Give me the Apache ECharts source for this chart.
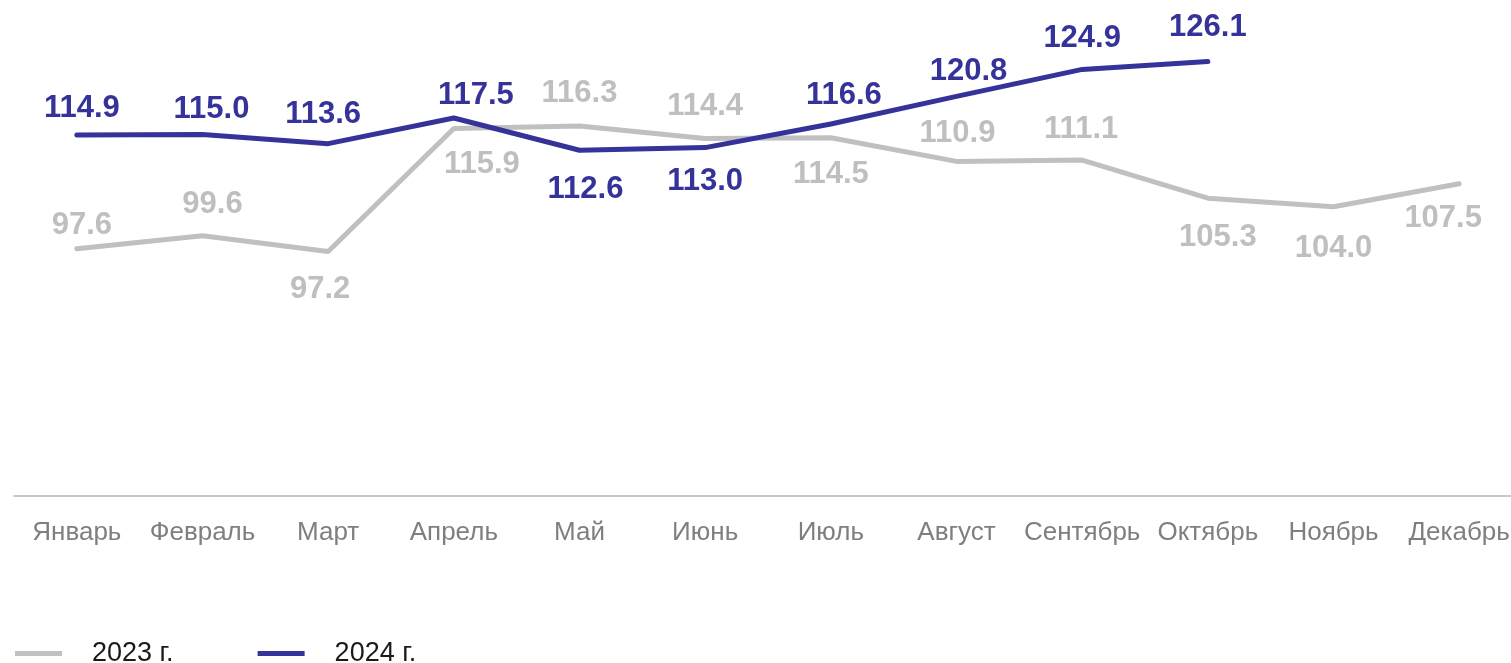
<!DOCTYPE html>
<html><head><meta charset="utf-8">
<script src="https://cdn.jsdelivr.net/npm/echarts@6/dist/echarts.min.js"></script>
<style>html,body{margin:0;padding:0;background:#fff}#c{width:1511px;height:663px}</style>
</head><body><div id="c"></div>
<script>
const categories = ['Январь','Февраль','Март','Апрель','Май','Июнь','Июль','Август','Сентябрь','Октябрь','Ноябрь','Декабрь'];
const values2023 = [97.6, 99.6, 97.2, 115.9, 116.3, 114.4, 114.5, 110.9, 111.1, 105.3, 104.0, 107.5];
const values2024 = [114.9, 115.0, 113.6, 117.5, 112.6, 113.0, 116.6, 120.8, 124.9, 126.1];
// label placement relative to each point (style only), [dx, dy] in px
const labelOffset2023 = [[5,-23],[10,-31],[-8,38],[28,36],[0,-32],[0,-32],[0,37],[1,-28],[-1,-31],[10,39],[0,42],[-16,35]];
const labelOffset2024 = [[5,-27],[9,-25],[-5,-29],[22,-23],[6,39],[0,34],[13,-28],[12,-25],[0,-31],[0,-34]];
const seriesNames = ['2023 г.', '2024 г.'];

const chart = echarts.init(document.getElementById('c'));
function mk(vals, offs) {
  return vals.map((v, i) => ({
    value: v,
    label: { position: 'inside', offset: offs[i] }
  }));
}
const FF = 'Liberation Sans, Arial, sans-serif';
const labelFont = { fontFamily: FF, fontWeight: 'bold', fontSize: 31, formatter: p => Number(p.value).toFixed(1) };
chart.setOption({
  animation: false,
  grid: { left: 14, width: 1508, top: 3, bottom: 167, containLabel: false, outerBoundsMode: 'none' },
  legend: {
    left: 15, top: 640, padding: 0, icon: 'rect', itemWidth: 47, itemHeight: 5, itemGap: 84,
    textStyle: { fontFamily: FF, fontSize: 27, color: '#1a1a1a', padding: [0,0,0,25] },
    data: seriesNames
  },
  xAxis: {
    type: 'category', data: categories, boundaryGap: true,
    axisLine: { lineStyle: { color: '#c8c8c8', width: 2 } },
    axisTick: { show: false },
    axisLabel: { color: '#7f7f7f', fontSize: 26, fontFamily: FF, margin: 24, interval: 0 }
  },
  yAxis: { type: 'value', min: 60, max: 135, show: false, splitLine: { show: false } },
  series: [
    { name: seriesNames[0], type: 'line', data: mk(values2023, labelOffset2023), symbol: 'circle', symbolSize: 0, showSymbol: true,
      lineStyle: { color: '#c0c0c0', width: 5, cap: 'round' }, itemStyle: { color: '#c0c0c0' },
      label: Object.assign({ show: true, color: '#bfbfbf' }, labelFont), z: 2 },
    { name: seriesNames[1], type: 'line', data: mk(values2024, labelOffset2024), symbol: 'circle', symbolSize: 0, showSymbol: true,
      lineStyle: { color: '#35339a', width: 5, cap: 'round' }, itemStyle: { color: '#35339a' },
      label: Object.assign({ show: true, color: '#35339a' }, labelFont), z: 3 }
  ]
});
</script></body></html>
